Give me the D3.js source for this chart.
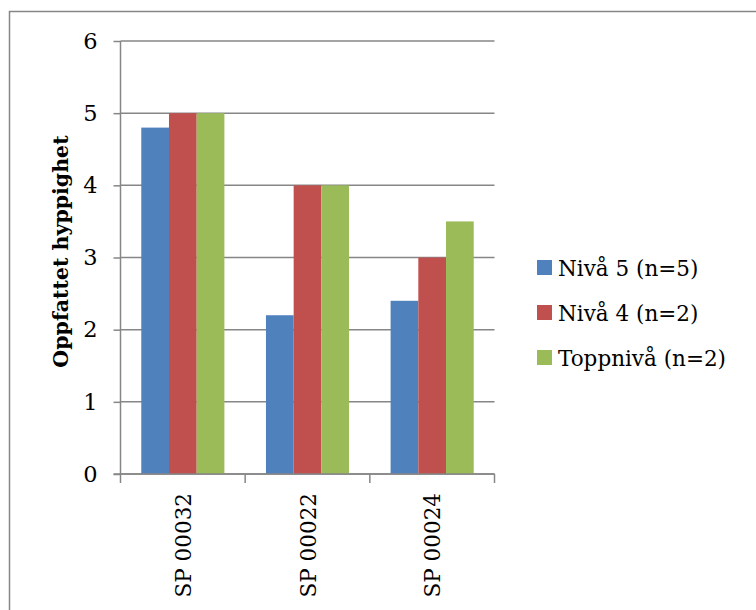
<!DOCTYPE html>
<html>
<head>
<meta charset="utf-8">
<script src="https://cdn.jsdelivr.net/npm/d3@7"></script>
<style>
  html, body { margin: 0; padding: 0; background: #fff; }
  svg { display: block; }
  text { font-family: "DejaVu Serif", "Liberation Serif", serif; fill: #000; }
</style>
</head>
<body>
<svg id="chart" width="756" height="610"></svg>
<script>
// Chart data
const categories = ["SP 00032", "SP 00022", "SP 00024"];
const seriesNames = ["Nivå 5 (n=5)", "Nivå 4 (n=2)", "Toppnivå (n=2)"];
const seriesColors = ["#4f81bd", "#c0504d", "#9bbb59"];
const niva5 = [4.8, 2.2, 2.4];
const niva4 = [5, 4, 3];
const toppniva = [5, 4, 3.5];
const yTicks = [0, 1, 2, 3, 4, 5, 6];
const yTitle = "Oppfattet hyppighet";

const seriesValues = [niva5, niva4, toppniva];

const svg = d3.select("#chart");
const W = 756, H = 610;
const plot = { left: 120.5, right: 494.5, top: 41, bottom: 474 };
const grid = "#868686";

// Outer chart frame (extends past the right/bottom edge of the view)
svg.append("rect")
  .attr("x", 9.5).attr("y", 11.5)
  .attr("width", W + 20).attr("height", H + 20)
  .attr("fill", "#fff").attr("stroke", grid).attr("stroke-width", 1.5);

const x = d3.scaleBand().domain(categories).range([plot.left, plot.right]).paddingInner(0).paddingOuter(0);
const y = d3.scaleLinear().domain([0, 6]).range([plot.bottom, plot.top]);

// Horizontal gridlines
svg.append("g").selectAll("line").data(yTicks).join("line")
  .attr("x1", plot.left).attr("x2", plot.right)
  .attr("y1", d => y(d)).attr("y2", d => y(d))
  .attr("stroke", grid).attr("stroke-width", 1.5);

// Bars: each group holds three bars with a 150% gap width
const bw = x.bandwidth();
const barW = bw / (3 + 1.5);
const groupOffset = barW * 0.75;
const inner = d3.scaleBand().domain(d3.range(seriesNames.length)).range([groupOffset, groupOffset + barW * 3]);

seriesValues.forEach((vals, si) => {
  svg.append("g").selectAll("rect").data(vals).join("rect")
    .attr("x", (d, i) => x(categories[i]) + inner(si))
    .attr("width", inner.bandwidth())
    .attr("y", d => y(d))
    .attr("height", d => y(0) - y(d))
    .attr("fill", seriesColors[si]);
});

// Y axis
const yAxis = svg.append("g").attr("transform", `translate(${plot.left},0)`)
  .call(d3.axisLeft(y).tickValues(yTicks).tickSize(7).tickPadding(16).tickFormat(d3.format("d")));
yAxis.select(".domain").attr("stroke", grid).attr("stroke-width", 1.5).attr("d", `M0,${plot.top}V${plot.bottom}`);
yAxis.selectAll(".tick line").attr("stroke", grid).attr("stroke-width", 1.5);
yAxis.selectAll(".tick text").attr("font-size", 22.5).attr("font-family", "DejaVu Serif");

// X axis with category boundary ticks
const xAxisG = svg.append("g");
xAxisG.append("line")
  .attr("x1", plot.left - 7).attr("x2", plot.right)
  .attr("y1", plot.bottom).attr("y2", plot.bottom)
  .attr("stroke", grid).attr("stroke-width", 1.5);
const boundaries = categories.map(c => x(c)).concat([x(categories[categories.length - 1]) + bw]);
xAxisG.selectAll("line.tk").data(boundaries).join("line").attr("class", "tk")
  .attr("x1", d => d).attr("x2", d => d)
  .attr("y1", plot.bottom).attr("y2", plot.bottom + 9)
  .attr("stroke", grid).attr("stroke-width", 1.5);
xAxisG.selectAll("text").data(categories).join("text")
  .attr("transform", d => `translate(${x(d) + bw / 2 + 8},${plot.bottom + 19}) rotate(-90)`)
  .attr("text-anchor", "end")
  .attr("font-size", 21.5)
  .text(d => d);

// Y axis title
svg.append("text")
  .attr("transform", `translate(68,251.5) rotate(-90)`)
  .attr("text-anchor", "middle")
  .attr("font-size", 20.5).attr("font-weight", "bold")
  .text(yTitle);

// Legend
const legend = svg.append("g").attr("transform", "translate(537,267.5)");
seriesNames.forEach((name, i) => {
  const g = legend.append("g").attr("transform", `translate(0,${i * 45})`);
  g.append("rect").attr("x", 0).attr("y", -7.5).attr("width", 15).attr("height", 15).attr("fill", seriesColors[i]);
  g.append("text").attr("x", 21).attr("y", 8).attr("font-size", 21.5).text(name);
});
</script>
</body>
</html>
